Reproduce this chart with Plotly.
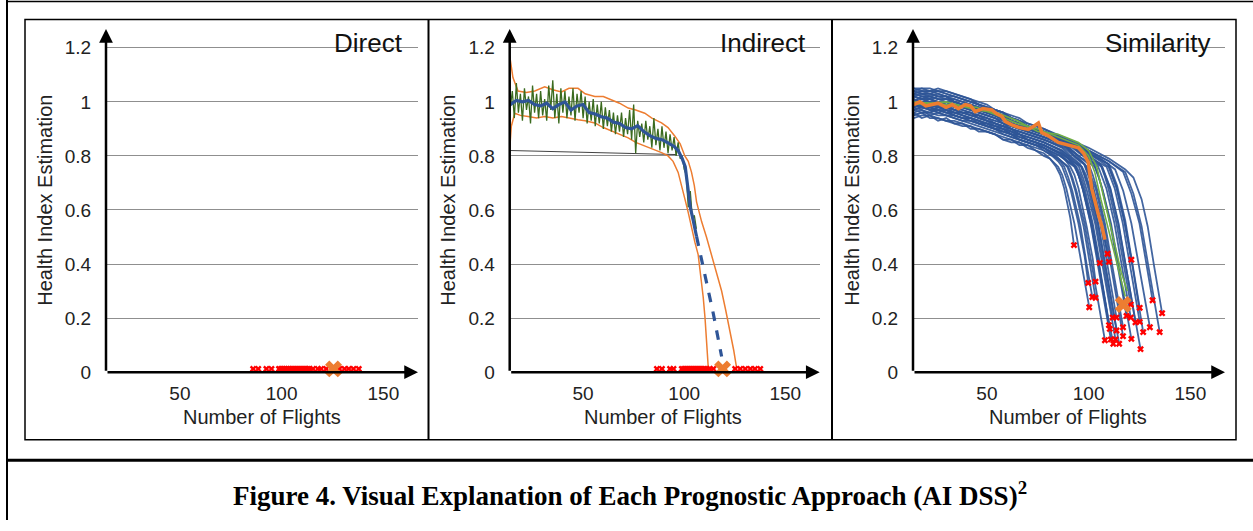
import plotly.graph_objects as go

W, H = 1253, 531


def px(x):
    return x / W


def py(y):
    return 1 - y / H


# ---------------- data ----------------
Y_TICKS = [0, 0.2, 0.4, 0.6, 0.8, 1, 1.2]
Y_TICK_TEXT = ["0", "0.2", "0.4", "0.6", "0.8", "1", "1.2"]
X_TICKS = [50, 100, 150]
X_TICK_TEXT = ["50", "100", "150"]
PANEL_TITLES = ["Direct", "Indirect", "Similarity"]
X_TITLE = "Number of Flights"
Y_TITLE = "Health Index Estimation"
CAPTION = "Figure 4. Visual Explanation of Each Prognostic Approach (AI DSS)<sup>2</sup>"

# Direct approach: failure times of the fleet (red) and prediction (orange)
DIRECT_FAIL_X = [86, 88.5, 92.5, 95, 98.7, 99.7, 100.6, 101.5, 102.4, 103.3, 104.2, 105.1,
                 106, 107, 108, 109, 110, 111, 112, 113, 113.7, 115.4, 117.8, 119.4, 121.9,
                 128.4, 130.9, 133, 135.3, 137.9]
DIRECT_PRED_X = [125.5]

# Indirect approach
INDIRECT_FAIL_X = [86.5, 89, 93, 94.7, 98.8, 99.8, 100.8, 101.8, 102.8, 103.8, 104.8, 105.8,
                   106.8, 107.8, 108.8, 110, 111.2, 112.6, 114.4, 125.2, 127.7, 130.2, 132.7,
                   135, 137.6]
INDIRECT_PRED_X = [119]

IND_RAW_X = list(range(14, 107))
IND_RAW_Y = [0.98, 1.04, 0.94, 1.07, 0.96, 1.03, 0.93, 1.05, 0.97, 1.02, 0.92, 1.06, 0.96,
             1.03, 0.94, 1.04, 0.95, 1.01, 0.93, 1.06, 0.97, 1.08, 0.94, 1.03, 0.92, 1.05,
             0.96, 1.04, 0.94, 1.02, 0.95, 1.05, 0.93, 1.03, 0.96, 1.04, 0.94, 1.02, 0.92,
             1.00, 0.93, 1.01, 0.91, 0.99, 0.92, 1.00, 0.90, 0.98, 0.91, 0.97, 0.89, 0.96,
             0.88, 0.95, 0.89, 0.96, 0.87, 0.94, 0.88, 0.97, 0.86, 0.99, 0.81, 0.93, 0.87,
             0.92, 0.85, 0.93, 0.86, 0.91, 0.83, 0.94, 0.84, 0.90, 0.82, 0.91, 0.83, 0.89,
             0.81, 0.88, 0.82, 0.87, 0.80, 0.85, 0.79, 0.80, 0.75, 0.73, 0.61, 0.67, 0.57,
             0.58, 0.53]

IND_SMOOTH_X = [14, 17, 20, 23, 26, 29, 32, 35, 38, 41, 44, 47, 50, 53, 56, 59, 62, 65, 68,
                71, 74, 77, 80, 83, 86, 89, 92, 95, 97, 99, 100.5, 101.5, 103, 104.5, 106.1]
IND_SMOOTH_Y = [0.99, 1.005, 1.0, 1.005, 0.99, 0.985, 0.995, 0.975, 0.99, 1.0, 0.97, 0.985,
                0.99, 0.96, 0.955, 0.945, 0.94, 0.925, 0.92, 0.905, 0.9, 0.912, 0.89, 0.875,
                0.865, 0.86, 0.848, 0.835, 0.82, 0.79, 0.76, 0.70, 0.61, 0.56, 0.502]

IND_PROJ_X = [106.1, 110.2, 114.4, 118.5]
IND_PROJ_Y = [0.502, 0.362, 0.216, 0.058]

IND_UPPER_X = [13.7, 15.3, 17.8, 22, 26.1, 31, 35, 39.3, 43, 47.5, 51, 55.8, 60, 64, 68, 72.3,
               76, 80.5, 84, 88.8, 92, 95.4, 98, 100.3, 102, 103.6, 105, 106.1, 108.6, 111,
               113.5, 116, 118.5, 120.5, 122.6, 124.5, 125.9]
IND_UPPER_Y = [1.17, 1.09, 1.04, 1.035, 1.04, 1.056, 1.045, 1.037, 1.05, 1.05, 1.03, 1.02,
               1.02, 1.007, 0.995, 0.977, 0.97, 0.958, 0.94, 0.922, 0.905, 0.873, 0.845, 0.80,
               0.78, 0.74, 0.69, 0.63, 0.557, 0.50, 0.435, 0.37, 0.30, 0.23, 0.155, 0.08, 0.016]

IND_LOWER_X = [13.7, 14.5, 16.2, 19, 22.8, 27, 31, 35, 39.3, 43, 47.5, 51, 55.8, 60, 64, 68,
               72.3, 76, 80.5, 84, 88.8, 92, 94.5, 97, 98.8, 100.3, 102, 103.6, 105.3, 106.9,
               108.2, 109.4, 110.3, 111, 111.9]
IND_LOWER_Y = [0.825, 0.91, 0.958, 0.95, 0.946, 0.94, 0.946, 0.94, 0.946, 0.94, 0.934, 0.93,
               0.922, 0.905, 0.892, 0.88, 0.867, 0.85, 0.837, 0.825, 0.812, 0.80, 0.78, 0.739,
               0.69, 0.642, 0.59, 0.533, 0.48, 0.435, 0.36, 0.277, 0.2, 0.131, 0.016]

IND_REF_X = [13.7, 96]
IND_REF_Y = [0.82, 0.805]

# Similarity approach: fleet degradation trajectories (blue)
SIM_HEAD_X = [14, 18, 22, 26, 30, 34, 38, 42, 46, 50, 54, 58, 62, 66, 70, 74, 78]
SIM_HEADS = [
    [0.96, 0.94, 0.95, 0.93, 0.94, 0.92, 0.92, 0.90, 0.90, 0.89, 0.88, 0.86, 0.86, 0.84, 0.84, 0.82, 0.80],
    [0.98, 0.97, 0.96, 0.98, 0.97, 0.95, 0.94, 0.94, 0.92, 0.92, 0.90, 0.90, 0.88, 0.86, 0.85, 0.84, 0.82],
    [0.95, 0.96, 0.94, 0.94, 0.93, 0.92, 0.91, 0.91, 0.89, 0.89, 0.88, 0.86, 0.85, 0.85, 0.83, 0.82, 0.81],
    [1.00, 0.98, 0.98, 0.96, 0.97, 0.96, 0.95, 0.94, 0.93, 0.92, 0.91, 0.90, 0.88, 0.88, 0.86, 0.85, 0.83],
    [0.97, 0.98, 0.97, 0.96, 0.95, 0.95, 0.94, 0.93, 0.92, 0.91, 0.90, 0.88, 0.87, 0.86, 0.85, 0.84, 0.83],
    [1.02, 1.01, 1.00, 1.00, 0.99, 0.97, 0.96, 0.96, 0.94, 0.93, 0.91, 0.91, 0.89, 0.88, 0.86, 0.85, 0.84],
    [0.99, 0.98, 0.98, 0.99, 0.98, 0.96, 0.96, 0.95, 0.95, 0.93, 0.92, 0.91, 0.90, 0.88, 0.87, 0.86, 0.85],
    [0.94, 0.95, 0.95, 0.94, 0.93, 0.93, 0.92, 0.91, 0.90, 0.89, 0.88, 0.87, 0.86, 0.85, 0.84, 0.83, 0.82],
    [1.03, 1.02, 1.02, 1.01, 1.01, 1.00, 0.99, 0.98, 0.97, 0.96, 0.95, 0.93, 0.92, 0.91, 0.90, 0.89, 0.88],
    [1.00, 1.02, 1.01, 1.00, 0.99, 0.99, 0.98, 0.97, 0.96, 0.95, 0.94, 0.92, 0.91, 0.90, 0.89, 0.88, 0.87],
    [0.97, 0.96, 0.96, 0.97, 0.96, 0.95, 0.94, 0.93, 0.92, 0.91, 0.90, 0.89, 0.88, 0.86, 0.85, 0.84, 0.83],
    [0.99, 0.98, 0.97, 0.98, 0.97, 0.96, 0.95, 0.94, 0.93, 0.92, 0.91, 0.90, 0.89, 0.87, 0.86, 0.85, 0.84],
    [0.96, 0.97, 0.95, 0.96, 0.95, 0.94, 0.93, 0.92, 0.91, 0.90, 0.89, 0.88, 0.87, 0.86, 0.85, 0.84, 0.83],
    [1.01, 1.00, 0.99, 1.00, 1.00, 0.98, 0.97, 0.96, 0.95, 0.94, 0.93, 0.92, 0.90, 0.89, 0.88, 0.87, 0.86],
    [0.98, 0.99, 0.97, 0.97, 0.96, 0.95, 0.94, 0.94, 0.93, 0.91, 0.90, 0.89, 0.88, 0.87, 0.86, 0.85, 0.84],
    [1.04, 1.03, 1.02, 1.03, 1.02, 1.00, 0.99, 0.98, 0.97, 0.96, 0.95, 0.94, 0.92, 0.91, 0.89, 0.88, 0.87],
    [0.97, 0.98, 0.98, 0.97, 0.96, 0.96, 0.95, 0.94, 0.93, 0.92, 0.91, 0.90, 0.89, 0.88, 0.87, 0.86, 0.85],
    [1.00, 0.99, 0.99, 0.98, 0.98, 0.97, 0.96, 0.95, 0.94, 0.93, 0.92, 0.91, 0.90, 0.88, 0.87, 0.86, 0.85],
    [0.95, 0.96, 0.96, 0.95, 0.95, 0.94, 0.93, 0.93, 0.92, 0.91, 0.90, 0.89, 0.88, 0.87, 0.86, 0.85, 0.84],
    [1.02, 1.01, 1.01, 1.00, 1.00, 0.99, 0.98, 0.97, 0.96, 0.95, 0.94, 0.92, 0.91, 0.90, 0.89, 0.88, 0.87],
    [0.99, 0.98, 0.98, 0.99, 0.98, 0.97, 0.96, 0.96, 0.95, 0.94, 0.92, 0.91, 0.90, 0.89, 0.88, 0.87, 0.86],
    [1.03, 1.04, 1.03, 1.02, 1.01, 1.01, 1.00, 0.99, 0.97, 0.96, 0.95, 0.94, 0.92, 0.91, 0.90, 0.89, 0.88],
    [1.00, 1.00, 1.01, 1.02, 1.02, 1.00, 0.99, 0.99, 0.98, 0.97, 0.95, 0.94, 0.93, 0.92, 0.91, 0.90, 0.89],
    [1.01, 1.00, 1.00, 0.99, 0.99, 0.98, 0.98, 0.97, 0.96, 0.95, 0.94, 0.93, 0.92, 0.91, 0.90, 0.89, 0.88],
    [1.04, 1.03, 1.03, 1.04, 1.03, 1.02, 1.01, 1.00, 0.99, 0.97, 0.96, 0.95, 0.93, 0.92, 0.91, 0.90, 0.89],
    [0.97, 0.98, 0.98, 0.97, 0.97, 0.96, 0.96, 0.95, 0.94, 0.93, 0.92, 0.91, 0.90, 0.89, 0.88, 0.87, 0.86],
    [1.02, 1.01, 1.02, 1.01, 1.00, 1.00, 0.99, 0.98, 0.97, 0.96, 0.95, 0.94, 0.93, 0.92, 0.90, 0.89, 0.88],
    [1.05, 1.04, 1.04, 1.05, 1.04, 1.03, 1.02, 1.01, 0.99, 0.98, 0.97, 0.96, 0.94, 0.93, 0.91, 0.90, 0.89],
    [1.00, 1.01, 1.01, 1.00, 1.00, 0.99, 0.98, 0.98, 0.97, 0.96, 0.95, 0.94, 0.92, 0.91, 0.90, 0.89, 0.88],
    [0.98, 0.99, 0.99, 0.98, 0.98, 0.97, 0.97, 0.96, 0.95, 0.94, 0.93, 0.92, 0.91, 0.90, 0.89, 0.88, 0.87],
    [1.03, 1.02, 1.02, 1.01, 1.01, 1.00, 0.99, 0.99, 0.98, 0.97, 0.96, 0.95, 0.93, 0.92, 0.91, 0.90, 0.88],
    [1.02, 1.03, 1.03, 1.02, 1.02, 1.01, 1.00, 0.99, 0.98, 0.97, 0.96, 0.95, 0.94, 0.93, 0.91, 0.90, 0.89],
    [1.05, 1.05, 1.04, 1.04, 1.03, 1.02, 1.01, 1.00, 0.99, 0.98, 0.97, 0.96, 0.94, 0.93, 0.92, 0.91, 0.90],
    [1.03, 1.04, 1.04, 1.03, 1.02, 1.02, 1.01, 1.00, 0.99, 0.98, 0.97, 0.96, 0.94, 0.93, 0.91, 0.90, 0.89],
    [1.04, 1.05, 1.05, 1.04, 1.04, 1.03, 1.02, 1.01, 1.00, 0.99, 0.97, 0.96, 0.95, 0.94, 0.92, 0.91, 0.90],
]
SIM_TAILS = [
    [(81, 0.79), (84, 0.76), (86, 0.73), (88, 0.68), (91, 0.57), (92.8, 0.47)],
    [(82, 0.80), (85, 0.78), (87, 0.76), (89, 0.72), (91, 0.68), (95, 0.55), (98, 0.43), (99.8, 0.33)],
    [(81, 0.79), (85, 0.76), (87, 0.73), (89, 0.68), (93, 0.55), (97, 0.38), (100.3, 0.24)],
    [(83, 0.80), (86, 0.78), (88, 0.76), (90, 0.72), (92, 0.67), (96, 0.54), (99, 0.40), (101.8, 0.278)],
    [(84, 0.80), (87, 0.78), (89.5, 0.76), (91.5, 0.72), (93.5, 0.67), (97.5, 0.54), (100.5, 0.41), (103.4, 0.275)],
    [(85, 0.81), (88, 0.79), (91, 0.76), (93, 0.73), (95, 0.68), (99, 0.54), (102, 0.42), (103.4, 0.335)],
    [(86, 0.82), (90, 0.79), (94, 0.76), (96, 0.73), (98, 0.68), (102, 0.55), (105.5, 0.404)],
    [(85, 0.79), (90, 0.76), (92, 0.72), (94, 0.67), (98, 0.55), (102, 0.38), (106, 0.2), (108, 0.118)],
    [(88, 0.84), (93, 0.80), (98, 0.77), (100, 0.74), (102, 0.69), (106, 0.56), (109.3, 0.438)],
    [(88, 0.84), (93, 0.81), (98, 0.77), (100, 0.73), (102, 0.69), (106, 0.57), (110, 0.408)],
    [(86, 0.80), (90, 0.78), (93.5, 0.76), (95.5, 0.72), (97.5, 0.67), (101.5, 0.55), (105.5, 0.38), (110, 0.174)],
    [(86, 0.81), (90, 0.79), (93.4, 0.76), (95.4, 0.72), (97.4, 0.67), (101.4, 0.54), (105.4, 0.38), (110.4, 0.16)],
    [(86, 0.80), (93, 0.76), (95, 0.73), (97, 0.68), (101, 0.55), (105, 0.38), (109, 0.2), (110.9, 0.121)],
    [(87, 0.83), (91, 0.80), (95.8, 0.77), (97.8, 0.73), (99.8, 0.68), (103.8, 0.55), (107.8, 0.38), (111.8, 0.202)],
    [(86, 0.81), (90, 0.78), (93.6, 0.76), (95.6, 0.72), (97.6, 0.67), (101.6, 0.55), (105.6, 0.38), (109.6, 0.2), (112.1, 0.105)],
    [(88, 0.84), (93, 0.80), (97.7, 0.77), (99.7, 0.73), (101.7, 0.69), (105.7, 0.55), (109.7, 0.38), (113.7, 0.202)],
    [(87, 0.82), (92, 0.79), (96.7, 0.76), (98.7, 0.73), (100.7, 0.68), (104.7, 0.55), (108.7, 0.38), (113.7, 0.154)],
    [(87, 0.82), (91, 0.79), (95.2, 0.76), (97.2, 0.72), (99.2, 0.67), (103.2, 0.55), (107.2, 0.38), (111.2, 0.2), (113.2, 0.121)],
    [(87, 0.81), (92, 0.78), (96.5, 0.76), (98.5, 0.72), (100.5, 0.68), (104.5, 0.55), (108.5, 0.38), (112.5, 0.2), (115, 0.105)],
    [(89, 0.84), (95, 0.80), (100, 0.77), (102, 0.73), (104, 0.68), (108, 0.55), (112, 0.38), (116.9, 0.166)],
    [(88, 0.83), (94, 0.79), (99.4, 0.76), (101.4, 0.72), (103.4, 0.68), (107.4, 0.55), (111.4, 0.38), (115.4, 0.2), (116.9, 0.133)],
    [(90, 0.85), (96, 0.81), (102.6, 0.77), (104.6, 0.73), (106.6, 0.68), (110.6, 0.55), (114.6, 0.38), (118.6, 0.208)],
    [(92, 0.85), (99, 0.81), (105.7, 0.77), (107.7, 0.73), (109.7, 0.68), (113.7, 0.55), (117.7, 0.38), (120.7, 0.25)],
    [(91, 0.84), (98, 0.80), (104.7, 0.76), (106.7, 0.72), (108.7, 0.68), (112.7, 0.55), (116.7, 0.38), (120.7, 0.202)],
    [(94, 0.84), (102, 0.80), (109.5, 0.77), (111.5, 0.73), (113.5, 0.69), (117.5, 0.56), (121, 0.416)],
    [(90, 0.83), (97, 0.79), (103, 0.76), (105, 0.72), (107, 0.67), (111, 0.55), (115, 0.38), (119, 0.2), (121, 0.123)],
    [(93, 0.84), (100, 0.80), (106.7, 0.76), (108.7, 0.72), (110.7, 0.68), (114.7, 0.55), (118.7, 0.38), (123, 0.184)],
    [(95, 0.84), (103, 0.80), (110, 0.77), (112, 0.73), (114, 0.69), (118, 0.56), (122, 0.38), (125.1, 0.238)],
    [(94, 0.83), (101, 0.79), (108.8, 0.76), (110.8, 0.72), (112.8, 0.68), (116.8, 0.55), (120.8, 0.38), (125.1, 0.186)],
    [(92, 0.83), (99, 0.79), (106.5, 0.76), (108.5, 0.72), (110.5, 0.68), (114.5, 0.55), (118.5, 0.38), (122.5, 0.2), (125.5, 0.085)],
    [(95, 0.84), (102, 0.80), (109.8, 0.76), (111.8, 0.72), (113.8, 0.68), (117.8, 0.55), (121.8, 0.38), (126.8, 0.148)],
    [(98, 0.83), (106, 0.79), (113, 0.75), (115, 0.71), (117, 0.67), (121, 0.55), (125, 0.38), (130.1, 0.166)],
    [(100, 0.82), (110, 0.78), (117, 0.74), (119, 0.70), (121, 0.66), (125, 0.55), (128, 0.42), (131.4, 0.266)],
    [(100, 0.82), (110, 0.78), (118, 0.74), (120, 0.70), (122, 0.66), (126, 0.54), (130, 0.37), (134.9, 0.148)],
    [(100, 0.83), (110, 0.79), (118, 0.75), (122, 0.72), (126, 0.64), (129, 0.54), (132, 0.40), (136.1, 0.218)],
]

# current unit (orange) and best-matching trajectories (green)
SIM_CUR_X = [14, 17, 20, 23, 26, 30, 33, 36, 39.4, 42, 44.3, 48, 52.4, 55, 57.4, 59, 62, 66,
             70.4, 73, 75.3, 77, 80, 85.1, 90, 95, 97.5, 99.8, 101.5, 103, 104.8, 106.5, 108]
SIM_CUR_Y = [0.99, 1.0, 0.985, 0.99, 0.995, 0.98, 0.99, 0.975, 0.99, 0.985, 0.964, 0.975,
             0.97, 0.955, 0.946, 0.928, 0.916, 0.905, 0.898, 0.91, 0.922, 0.886, 0.875, 0.85,
             0.84, 0.83, 0.81, 0.777, 0.68, 0.63, 0.583, 0.54, 0.49]
SIM_MATCH1_X = [14, 30, 45, 55, 65, 75, 85, 95, 100, 103, 106, 109, 112, 115, 118]
SIM_MATCH1_Y = [1.0, 0.99, 0.98, 0.95, 0.92, 0.90, 0.87, 0.84, 0.80, 0.74, 0.64, 0.55, 0.45, 0.36, 0.28]
SIM_MATCH2_X = [14, 30, 45, 55, 65, 75, 85, 95, 100, 104, 107, 110, 113, 116, 119]
SIM_MATCH2_Y = [0.99, 1.0, 0.97, 0.96, 0.93, 0.89, 0.88, 0.85, 0.82, 0.76, 0.66, 0.56, 0.46, 0.37, 0.30]
SIM_PRED_X = [117]
SIM_PRED_Y = [0.25]

# ---------------- styles ----------------
BLUE = "#2F5597"
ORANGE = "#ED7D31"
DARKGREEN = "#3B6B1F"
LIGHTGREEN = "#70AD47"
RED = "#FF0000"
FONT = "Arial, Liberation Sans, sans-serif"

X_RANGE = [13.7, 167]
Y_RANGE = [0, 1.27]
Y_DOM = [py(380), py(29.5)]
X_DOMS = [[px(106), px(418)], [px(509.7), px(819.7)], [px(913), px(1225)]]

fig = go.Figure()


def add(trace, i):
    s = "" if i == 1 else str(i)
    trace.update(xaxis="x" + s, yaxis="y" + s, showlegend=False, hoverinfo="skip")
    fig.add_trace(trace)


def fail_markers(xs, i):
    add(go.Scatter(x=xs, y=[0.012] * len(xs), mode="markers", cliponaxis=False,
                   marker=dict(symbol="x", size=6, color=RED, line=dict(width=0))), i)


def pred_marker(xs, ys, i):
    add(go.Scatter(x=xs, y=ys, mode="markers", cliponaxis=False,
                   marker=dict(symbol="x", size=15, color=ORANGE, line=dict(width=0))), i)


# Panel 1: direct
fail_markers(DIRECT_FAIL_X, 1)
pred_marker(DIRECT_PRED_X, [0.012], 1)

# Panel 2: indirect
add(go.Scatter(x=IND_REF_X, y=IND_REF_Y, mode="lines", line=dict(color="#444", width=1)), 2)
add(go.Scatter(x=IND_UPPER_X, y=IND_UPPER_Y, mode="lines", line=dict(color=ORANGE, width=1.5)), 2)
add(go.Scatter(x=IND_LOWER_X, y=IND_LOWER_Y, mode="lines", line=dict(color=ORANGE, width=1.5)), 2)
add(go.Scatter(x=IND_RAW_X, y=IND_RAW_Y, mode="lines", line=dict(color=DARKGREEN, width=1.3)), 2)
add(go.Scatter(x=IND_SMOOTH_X, y=IND_SMOOTH_Y, mode="lines", line=dict(color=BLUE, width=3.2)), 2)
add(go.Scatter(x=IND_PROJ_X, y=IND_PROJ_Y, mode="lines",
               line=dict(color=BLUE, width=3.2, dash="dash")), 2)
fail_markers(INDIRECT_FAIL_X, 2)
pred_marker(INDIRECT_PRED_X, [0.012], 2)

# Panel 3: similarity
end_x, end_y = [], []
for head, tail in zip(SIM_HEADS, SIM_TAILS):
    xs = SIM_HEAD_X + [t[0] for t in tail]
    ys = head + [t[1] for t in tail]
    end_x.append(tail[-1][0])
    end_y.append(tail[-1][1])
    add(go.Scatter(x=xs, y=ys, mode="lines", line=dict(color="rgba(47,85,151,0.9)", width=1.8)), 3)
add(go.Scatter(x=SIM_MATCH1_X, y=SIM_MATCH1_Y, mode="lines", line=dict(color=LIGHTGREEN, width=1.6)), 3)
add(go.Scatter(x=SIM_MATCH2_X, y=SIM_MATCH2_Y, mode="lines", line=dict(color=LIGHTGREEN, width=1.6)), 3)
add(go.Scatter(x=SIM_CUR_X, y=SIM_CUR_Y, mode="lines", line=dict(color=ORANGE, width=3.5)), 3)
add(go.Scatter(x=end_x, y=end_y, mode="markers", cliponaxis=False,
               marker=dict(symbol="x", size=6, color=RED, line=dict(width=0))), 3)
pred_marker(SIM_PRED_X, SIM_PRED_Y, 3)

# ---------------- layout ----------------
layout = dict(width=W, height=H, margin=dict(l=0, r=0, t=0, b=0), autosize=False,
              paper_bgcolor="white", plot_bgcolor="white", showlegend=False,
              font=dict(family=FONT, color="#222"))
for i in range(1, 4):
    s = "" if i == 1 else str(i)
    layout["xaxis" + s] = dict(domain=X_DOMS[i - 1], range=X_RANGE, anchor="y" + s,
                               tickvals=X_TICKS, ticktext=X_TICK_TEXT, showgrid=False,
                               zeroline=False, showline=False, ticks="outside", ticklen=4,
                               tickcolor="rgba(0,0,0,0)", tickfont=dict(size=19, color="#222"),
                               fixedrange=True)
    layout["yaxis" + s] = dict(domain=Y_DOM, range=Y_RANGE, anchor="x" + s,
                               tickvals=Y_TICKS, ticktext=Y_TICK_TEXT, showgrid=True,
                               gridcolor="#8f8f8f", gridwidth=1, zeroline=False, showline=False,
                               ticks="outside", ticklen=10, tickcolor="rgba(0,0,0,0)",
                               tickfont=dict(size=19, color="#222"), fixedrange=True)
fig.update_layout(**layout)

# axis arrows
for i in range(1, 4):
    s = "" if i == 1 else str(i)
    fig.add_annotation(x=X_RANGE[1], y=0, ax=X_RANGE[0], ay=0, xref="x" + s, yref="y" + s,
                       axref="x" + s, ayref="y" + s, showarrow=True, arrowhead=2, arrowsize=1.1,
                       arrowwidth=2.5, arrowcolor="black", text="", standoff=0)
    fig.add_annotation(x=X_RANGE[0], y=Y_RANGE[1], ax=X_RANGE[0], ay=0, xref="x" + s,
                       yref="y" + s, axref="x" + s, ayref="y" + s, showarrow=True, arrowhead=2,
                       arrowsize=1.1, arrowwidth=2.5, arrowcolor="black", text="", standoff=0)

# axis titles & panel titles
X_TITLE_POS = [262, 663, 1068]
Y_TITLE_POS = [45, 448, 852]
PANEL_TITLE_POS = [368, 763, 1157]
for i in range(3):
    fig.add_annotation(x=px(X_TITLE_POS[i]), y=py(426), xref="paper", yref="paper",
                       text=X_TITLE, showarrow=False, font=dict(size=20, color="#222"),
                       xanchor="center", yanchor="middle")
    fig.add_annotation(x=px(Y_TITLE_POS[i]), y=py(205), xref="paper", yref="paper",
                       text=Y_TITLE, showarrow=False, textangle=-90,
                       font=dict(size=20, color="#222"), xanchor="center", yanchor="middle")
    fig.add_annotation(x=px(PANEL_TITLE_POS[i]), y=py(44), xref="paper", yref="paper",
                       text=PANEL_TITLES[i], showarrow=False, font=dict(size=26, color="#111"),
                       xanchor="center", yanchor="middle")

fig.add_annotation(x=px(630), y=py(504), xref="paper", yref="paper", text="<b>" + CAPTION + "</b>",
                   showarrow=False, xanchor="center", yanchor="middle",
                   font=dict(family="Times New Roman, Liberation Serif, serif", size=27, color="black"))

# frames
shapes = [
    dict(type="line", x0=px(7), x1=px(7), y0=0, y1=1, line=dict(color="black", width=2)),
    dict(type="line", x0=px(7), x1=1, y0=py(1.5), y1=py(1.5), line=dict(color="black", width=1.5)),
    dict(type="rect", x0=px(25), x1=px(1236), y0=py(449), y1=py(20), line=dict(color="black", width=1.5)),
    dict(type="line", x0=px(428.5), x1=px(428.5), y0=py(449), y1=py(20), line=dict(color="black", width=2)),
    dict(type="line", x0=px(832), x1=px(832), y0=py(449), y1=py(20), line=dict(color="black", width=2)),
    dict(type="line", x0=px(7), x1=1, y0=py(470), y1=py(470), line=dict(color="black", width=3)),
]
for sh in shapes:
    sh.update(xref="paper", yref="paper", layer="above")
fig.update_layout(shapes=shapes)

fig.write_html("out.html", config={"displayModeBar": False},
               post_script="document.body.style.margin='0px';document.body.style.overflow='hidden';")
